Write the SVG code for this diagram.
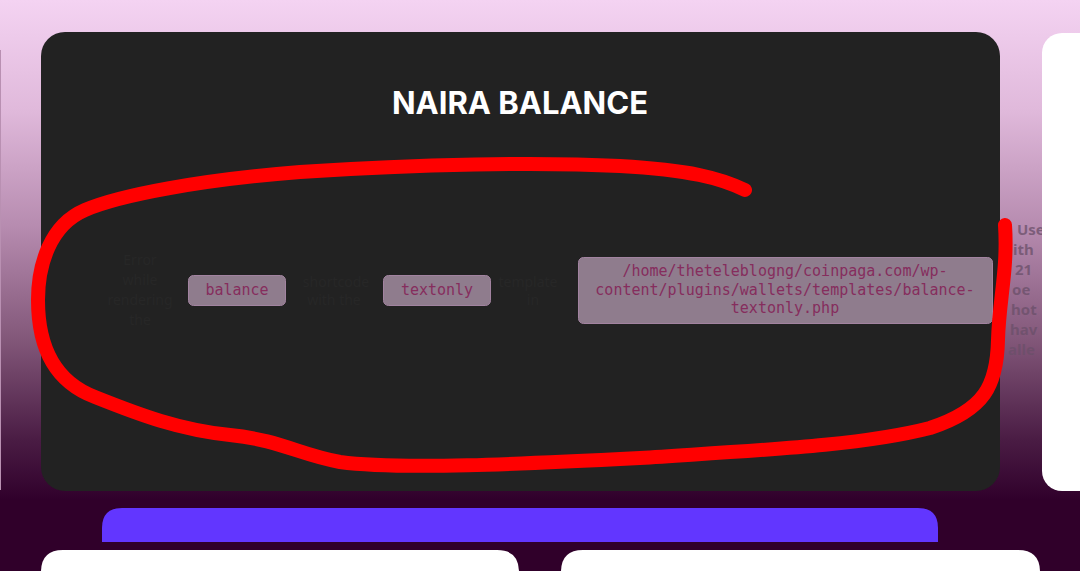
<svg xmlns="http://www.w3.org/2000/svg" width="1080" height="571" viewBox="0 0 1080 571">
<defs>
<linearGradient id="bg" x1="0" y1="0" x2="0" y2="500" gradientUnits="userSpaceOnUse">
<stop offset="0" stop-color="#f4d3f2"/>
<stop offset="0.22" stop-color="#e0b9db"/>
<stop offset="0.45" stop-color="#b78cb0"/>
<stop offset="0.68" stop-color="#825779"/>
<stop offset="0.88" stop-color="#4a1c44"/>
<stop offset="1" stop-color="#30002b"/>
</linearGradient>
<style>
.chip{fill:#8f7c8d;stroke:#a283a0;stroke-width:1}
.code{font-family:"DejaVu Sans Mono","Liberation Mono",monospace;font-size:15px;fill:#862d5d;text-anchor:middle}
.faint{font-family:"Noto Sans","Liberation Sans",sans-serif;font-size:14px;fill:#272727;text-anchor:middle}
.side{font-family:"Noto Sans","Liberation Sans",sans-serif;font-size:15px;font-weight:bold;fill:#6a4f69;fill-opacity:0.75}
</style>
</defs>
<rect width="1080" height="571" fill="url(#bg)"/>
<rect x="0" y="500" width="1080" height="71" fill="#30002a"/>
<rect x="-10" y="50" width="11" height="440" fill="#b990b2"/>

<g id="side-text" class="side">
<text x="1017" y="235">Use</text>
<text x="1013" y="255">ith</text>
<text x="1015" y="275">21</text>
<text x="1012" y="295">oe</text>
<text x="1011" y="315">hot</text>
<text x="1010" y="335">hav</text>
<text x="1008" y="355">alle</text>
</g>

<g id="right-card"><rect x="1042" y="33" width="80" height="458" rx="20" fill="#ffffff"/></g>

<g id="card">
<rect x="41" y="32" width="959" height="459" rx="24" fill="#222222"/>
<text x="520" y="114" text-anchor="middle" font-family="Inter,'Noto Sans','Liberation Sans',sans-serif" font-weight="bold" font-size="31" fill="#ffffff">NAIRA BALANCE</text>
</g>

<g id="faint-text" class="faint">
<text x="140" y="265">Error</text>
<text x="140" y="285">while</text>
<text x="140" y="305">rendering</text>
<text x="140" y="325">the</text>
<text x="336" y="287">shortcode</text>
<text x="334" y="305">with the</text>
<text x="528" y="287">template</text>
<text x="533" y="305">in</text>
</g>

<g id="chip-balance">
<rect class="chip" x="188.5" y="275.5" width="97" height="30" rx="5"/>
<text class="code" x="237" y="295">balance</text>
</g>
<g id="chip-textonly">
<rect class="chip" x="383.5" y="275.5" width="107" height="30" rx="5"/>
<text class="code" x="437" y="295">textonly</text>
</g>
<g id="chip-path">
<rect class="chip" x="578.5" y="257.5" width="414" height="66" rx="5"/>
<text class="code" x="785" y="276">/home/theteleblogng/coinpaga.com/wp-</text>
<text class="code" x="785" y="295">content/plugins/wallets/templates/balance-</text>
<text class="code" x="785" y="313">textonly.php</text>
</g>

<g id="button">
<path d="M102 542 V528 Q102 508 122 508 H918 Q938 508 938 528 V542 Z" fill="#6236ff"/>
</g>

<g id="bottom-cards" fill="#ffffff">
<path d="M41 580 V572 Q41 550 63 550 H497 Q519 550 519 572 V580 Z"/>
<path d="M561 580 V572 Q561 550 583 550 H1018 Q1040 550 1040 572 V580 Z"/>
</g>

<g id="scribble">
<path d="M745 190 C720 178 690 170 620 166 C540 162 420 164 300 172 C200 180 120 195 85 210 C50 225 38 265 38 300 C38 340 50 380 95 397 C140 415 180 430 230 435 C280 440 300 455 340 462 C400 470 520 464 640 458 C760 450 860 446 930 428 C985 410 997 385 998 340 C999 300 1008 270 1005 225" fill="none" stroke="#ff0000" stroke-width="14" stroke-linecap="round" stroke-linejoin="round"/>
</g>
</svg>
